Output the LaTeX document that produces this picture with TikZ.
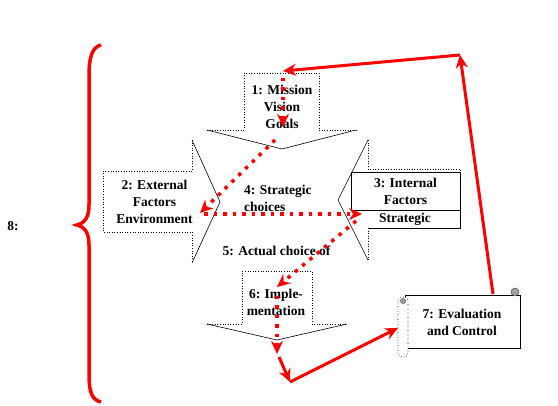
\documentclass[tikz,border=0pt]{standalone}
\usepackage{fontspec}
\setmainfont{Liberation Serif}
\usetikzlibrary{arrows.meta,positioning,calc}
\definecolor{flowRed}{HTML}{FF0000}
\definecolor{curlGray}{HTML}{A0A0A0}

\tikzset{
  boxline/.style={draw=black,line width=0.6pt,dotted},
  headline/.style={draw=black,line width=0.6pt},
  tagtext/.style={font=\bfseries\fontsize{13.5}{17}\selectfont,align=center,inner sep=0pt},
  redflow/.style={draw=flowRed,line width=3.5pt,dash pattern=on 3.5pt off 6pt,-{Stealth[length=13pt,width=12pt]}},
  redline/.style={draw=flowRed,line width=3pt,-{Stealth[length=13pt,width=12pt]}},
}

\begin{document}
\begin{tikzpicture}[x=1pt,y=-1pt]
  \useasboundingbox (0,0) rectangle (558,406);

  % 1: mission arrow (down)
  \fill[white] (244,73) -- (319,73) -- (319,130) -- (356,130) -- (282,149) -- (207,130) -- (244,130) -- cycle;
  \draw[boxline] (207,130) -- (244,130) -- (244,73) -- (319,73) -- (319,130) -- (356,130);
  \draw[headline] (207,130) -- (282,149) -- (356,130);

  % 2: external arrow (right)
  \fill[white] (192,140) -- (220,202) -- (192,263) -- (192,232) -- (103,232) -- (103,171) -- (192,171) -- cycle;
  \draw[boxline] (192,140) -- (192,171) -- (103,171) -- (103,232) -- (192,232) -- (192,263);
  \draw[headline] (192,140) -- (220,202) -- (192,263);

  % 3: internal arrow (left)
  \fill[white] (368,140) -- (338,200) -- (368,260) -- (368,228) -- (460,228) -- (460,169) -- (368,169) -- cycle;
  \draw[boxline] (368,140) -- (368,169) -- (460,169) -- (460,210);
  \draw[headline] (460,210) -- (460,228) -- (368,228);
  \draw[boxline] (368,228) -- (368,260);
  \draw[headline] (368,140) -- (338,200) -- (368,260);

  % 6: implementation arrow (down)
  \fill[white] (242,271) -- (312,271) -- (312,324) -- (347,324) -- (277,340) -- (207,324) -- (242,324) -- cycle;
  \draw[boxline] (207,324) -- (242,324) -- (242,271) -- (312,271) -- (312,324) -- (347,324);
  \draw[headline] (207,324) -- (277,340) -- (347,324);

  % 7: scroll
  \draw[black,line width=0.6pt,fill=white] (405,295) -- (520,295) -- (520,348) -- (405,348) -- cycle;
  \draw[black,line width=0.6pt,fill=white,rounded corners=4pt,dotted] (398,297) rectangle (408,357);
  \filldraw[fill=curlGray,draw=black!70,line width=0.5pt] (403,301) circle (2.5pt);
  \filldraw[fill=curlGray,draw=black!70,line width=0.5pt] (515,292) circle (4pt);

  % texts
  \node[tagtext] (mission) at (282,107) {1: Mission\\Vision\\Goals};
  \node[tagtext] (external) at (154.5,202) {2: External\\Factors\\Environment};
  \node[draw=black,line width=0.6pt,fill=white,minimum width=109pt,minimum height=38pt,inner sep=0pt] (internalbox) at (405.5,191) {};
  \node[tagtext] (internal) at (internalbox.center) {3: Internal\\Factors};
  \node[tagtext] (strategic) at (405,219) {Strategic};
  \node[tagtext,align=left,anchor=west] (choices) at (244,198) {4: Strategic\\choices};
  \node[tagtext] (actual) at (276.5,251) {5: Actual choice of};
  \node[tagtext] (impl) at (276,302) {6: Imple-\\mentation};
  \node[tagtext] (eval) at (462,322.5) {7: Evaluation\\and Control};
  \node[tagtext] (eight) at (13,226) {8:};

  % 8: brace
  \draw[flowRed,line width=3.5pt] (101,45) .. controls (92,47) and (89,58) .. (89,75) -- (89,205)
    .. controls (89,217) and (85,223) .. (77,225) .. controls (85,227) and (89,233) .. (89,245)
    -- (89,375) .. controls (89,392) and (92,400) .. (101,402);

  % connector points
  \coordinate (missionIn) at (283,78);
  \coordinate (missionOut) at (283,127);
  \coordinate (goalsFrom) at (275,140);
  \coordinate (envTip) at (200,213);
  \coordinate (envFrom) at (204,214);
  \coordinate (stratTip) at (362,214);
  \coordinate (stratFrom) at (356,221);
  \coordinate (implTip) at (277,287);
  \coordinate (implFrom) at (277,296);
  \coordinate (implOut) at (277,354);
  \coordinate (lowFrom) at (279,357);
  \coordinate (lowCorner) at (290,382);
  \coordinate (scrollIn) at (398,328);
  \coordinate (scrollTop) at (493,294);
  \coordinate (topCorner) at (460,55);
  \coordinate (missionTop) at (283,71);

  % red flow
  \draw[redflow] (missionIn) -- (missionOut);
  \draw[redflow] (goalsFrom) -- (envTip);
  \draw[redflow] (envFrom) -- (stratTip);
  \draw[redflow] (stratFrom) -- (implTip);
  \draw[redflow] (implFrom) -- (implOut);
  \draw[redline] (lowFrom) -- (lowCorner);
  \draw[redline] (lowCorner) -- (scrollIn);
  \draw[redline] (scrollTop) -- (topCorner);
  \draw[redline] (topCorner) -- (missionTop);
\end{tikzpicture}
\end{document}
